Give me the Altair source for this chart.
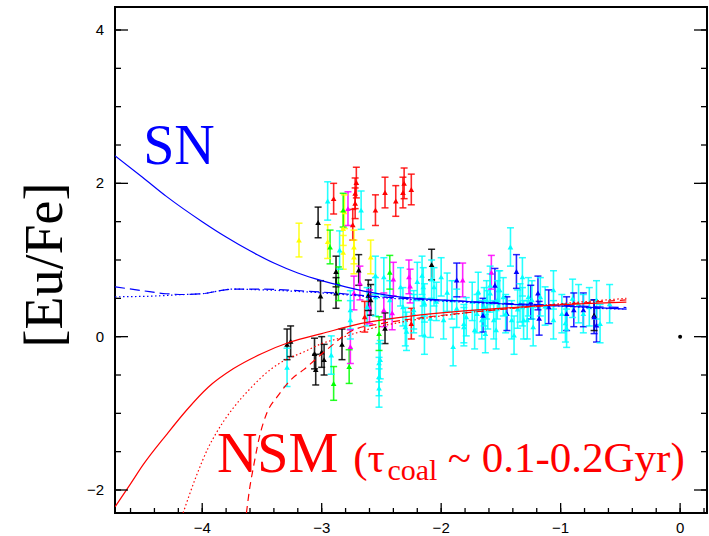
import altair as alt
import pandas as pd

# ---------------- model curves ----------------
sn_x = [-4.73, -4.5, -4.3, -4.0, -3.8, -3.6, -3.4, -3.2, -3.0, -2.8, -2.6, -2.4, -2.2, -1.8, -1.4, -1.0, -0.7, -0.45]
sn_y = [2.36, 2.08, 1.83, 1.50, 1.30, 1.12, 0.96, 0.83, 0.73, 0.65, 0.58, 0.53, 0.50, 0.46, 0.42, 0.40, 0.38, 0.36]

sn_dash_x = [-4.73, -4.5, -4.3, -4.15, -4.0, -3.85, -3.75, -3.5, -3.2, -2.9, -2.6, -2.2, -1.8, -1.4, -1.0, -0.7, -0.45]
sn_dash_y = [0.65, 0.60, 0.56, 0.55, 0.56, 0.60, 0.62, 0.62, 0.60, 0.57, 0.53, 0.49, 0.46, 0.43, 0.41, 0.39, 0.38]

sn_dot_x = [-4.73, -4.4, -4.15, -4.0, -3.85, -3.75, -3.5, -3.2, -2.9, -2.6, -2.2, -1.8, -1.4, -1.0, -0.7, -0.45]
sn_dot_y = [0.52, 0.53, 0.55, 0.56, 0.60, 0.62, 0.61, 0.59, 0.56, 0.52, 0.48, 0.45, 0.42, 0.40, 0.37, 0.36]

nsm_x = [-4.73, -4.6, -4.494, -4.3, -4.126, -3.95, -3.741, -3.5, -3.264, -3.0, -2.678, -2.3, -2.0, -1.6, -1.2, -0.8, -0.45]
nsm_y = [-2.22, -1.92, -1.67, -1.28, -0.95, -0.66, -0.42, -0.22, -0.07, 0.04, 0.17, 0.26, 0.31, 0.36, 0.40, 0.43, 0.45]

nsm_dot_x = [-4.16, -4.05, -3.95, -3.88, -3.75, -3.6, -3.43, -3.3, -3.15, -3.0, -2.85, -2.6, -2.3, -2.0, -1.5, -1.0, -0.45]
nsm_dot_y = [-2.30, -1.82, -1.45, -1.25, -0.95, -0.68, -0.43, -0.30, -0.20, -0.09, -0.02, 0.10, 0.20, 0.27, 0.36, 0.43, 0.50]

nsm_dash_x = [-3.63, -3.60, -3.57, -3.52, -3.46, -3.37, -3.25, -3.15, -2.98, -2.73, -2.5, -2.2, -1.8, -1.4, -1.0, -0.45]
nsm_dash_y = [-2.30, -1.95, -1.69, -1.30, -1.00, -0.78, -0.55, -0.43, -0.20, 0.09, 0.17, 0.24, 0.31, 0.37, 0.42, 0.48]

# ---------------- observed stars ([Fe/H], [Eu/Fe]) ----------------
black_x = [-3.29, -3.26, -3.06, -3.05, -3.00, -2.98, -2.83, -3.01, -2.88, -2.88, -2.69, -3.03, -2.61, -2.59, -2.47, -2.08, -0.72]
black_y = [-0.10, -0.06, -0.22, -0.43, -0.20, -0.30, -0.10, 0.53, 0.57, 0.85, 0.87, 1.49, 0.54, 0.48, 0.11, 0.94, 0.28]

yellow_x = [-3.19, -2.95, -2.81, -2.82, -2.82, -2.73, -2.73, -2.59]
yellow_y = [1.26, 1.24, 1.63, 1.41, 1.10, 1.17, 1.04, 1.04]

green_x = [-2.93, -2.82, -2.43, -2.86, -2.90, -2.77, -2.52]
green_y = [1.17, 1.65, 0.84, 0.69, -0.61, -0.39, 0.04]

magenta_x = [-2.78, -2.27, -2.76, -2.60, -2.48, -2.68, -1.82, -1.58, -2.73, -2.26, -2.40, -2.41]
magenta_y = [1.67, 0.78, -0.13, 0.39, 0.35, 0.70, 0.74, 0.84, 0.57, 0.66, 0.75, 0.31]

red_x = [-2.90, -2.71, -2.72, -2.72, -2.74, -2.55, -2.47, -2.38, -2.32, -2.31, -2.25, -2.64, -2.25]
red_y = [1.80, 2.01, 1.87, 1.74, 1.46, 1.65, 1.88, 1.77, 1.88, 2.00, 1.92, 0.26, 0.17]

blue_x = [-1.37, -1.55, -1.19, -1.18, -1.10, -0.89, -0.70, -0.72, -0.81, -1.87, -1.45, -1.65, -1.25, -0.95]
blue_y = [0.85, 0.67, 0.57, 0.24, 0.39, 0.35, 0.15, 0.26, 0.35, 0.74, 0.30, 0.28, 0.45, 0.30]

cyan_x = [-3.29, -2.95, -2.67, -2.85, -2.55, -2.92, -2.76, -2.51, -2.52, -2.52, -2.29, -1.42, -1.90, -2.14, -2.08,
          -2.20, -2.16, -2.14, -2.04, -2.00, -1.98, -1.91, -1.87, -1.79, -1.74, -1.69, -1.66, -1.62, -1.61, -1.59,
          -1.56, -1.53, -1.51, -1.46, -1.41, -1.34, -1.31, -1.27, -2.23, -2.09, -2.06, -1.81, -1.72, -1.63, -1.54,
          -1.39, -2.55, -2.43, -2.32, -2.30, -2.23, -2.16, -2.15, -2.34, -2.48, -2.62, -2.76, -1.81, -1.64, -1.59,
          -1.52, -1.32, -1.32, -1.28, -1.24, -1.17, -1.06, -1.06, -0.99, -0.95, -0.85, -0.81, -0.76, -0.70, -0.67,
          -0.59, -1.23, -0.96, -2.52, -1.95, -1.70, -1.48, -1.36, -1.13, -0.90]
cyan_y = [-0.40, 1.77, 1.65, 1.13, 0.80, -0.24, 0.22, -0.30, -0.52, -0.67, 0.07, 1.17, -0.13, 0.02, 0.75,
          0.72, 0.80, 0.44, 0.46, 0.78, 0.22, 0.48, 0.37, 0.26, 0.46, 0.59, 0.22, 0.48, 0.35, 0.67,
          0.22, 0.48, 0.61, 0.30, 0.22, 0.44, 0.22, 0.52, 0.30, 0.24, 0.65, 0.13, 0.09, 0.04, 0.09,
          0.02, 0.52, 0.48, 0.39, 0.13, 0.35, 0.26, 0.65, 0.65, 0.78, 0.39, 0.35, 0.17, 0.39, 0.57,
          0.61, 0.78, 0.39, 0.22, 0.48, 0.52, 0.61, 0.22, 0.30, 0.11, 0.43, 0.30, 0.39, 0.48, 0.17,
          0.43, 0.13, 0.18, -0.34, 0.58, 0.30, 0.52, 0.36, 0.40, 0.50]

groups = [("black", black_x, black_y, 0.20),
          ("yellow", yellow_x, yellow_y, 0.22),
          ("green", green_x, green_y, 0.22),
          ("magenta", magenta_x, magenta_y, 0.22),
          ("red", red_x, red_y, 0.20),
          ("blue", blue_x, blue_y, 0.22),
          ("cyan", cyan_x, cyan_y, 0.25)]
group_names = [g[0] for g in groups]
group_colors = ["#000000", "#ffff00", "#00ff00", "#ff00ff", "#ff0000", "#0000ff", "#00ffff"]

rows = []
for name, xs_, ys_, err in groups:
    for a, b in zip(xs_, ys_):
        rows.append({"g": name, "x": a, "y": b, "lo": b - err, "hi": b + err})
stars = pd.DataFrame(rows)

sun_x = [0.0]
sun_y = [0.0]

# axis ticks and labels
x_major = [-4, -3, -2, -1, 0]
x_labels = ["\u22124", "\u22123", "\u22122", "\u22121", "0"]
x_minor = [round(-4.6 + 0.2 * i, 1) for i in range(25)]
y_major = [-2, 0, 2, 4]
y_labels = ["\u22122", "0", "2", "4"]
y_minor = [round(-2.0 + 0.5 * i, 1) for i in range(13)]

W, H = 592, 506
xs = alt.Scale(domain=[-4.73, 0.225], nice=False, zero=False)
ys = alt.Scale(domain=[-2.3, 4.3], nice=False, zero=False)
cscale = alt.Scale(domain=group_names, range=group_colors)


def curve(xv, yv, color, dash=None):
    df = pd.DataFrame({"x": xv, "y": yv, "o": list(range(len(xv)))})
    kw = dict(color=color, strokeWidth=1.2, clip=True, interpolate="monotone")
    if dash is not None:
        kw["strokeDash"] = dash
    return alt.Chart(df).mark_line(**kw).encode(
        x=alt.X("x:Q", scale=xs, axis=None),
        y=alt.Y("y:Q", scale=ys, axis=None),
        order="o:Q",
    )


bars = alt.Chart(stars).mark_rule(strokeWidth=1.6, opacity=0.85).encode(
    x=alt.X("x:Q", scale=xs, axis=None),
    y=alt.Y("lo:Q", scale=ys, axis=None),
    y2="hi:Q",
    color=alt.Color("g:N", scale=cscale, legend=None),
)
cap_lo = alt.Chart(stars).mark_tick(orient="horizontal", size=7, thickness=1.5, opacity=0.85).encode(
    x=alt.X("x:Q", scale=xs, axis=None),
    y=alt.Y("lo:Q", scale=ys, axis=None),
    color=alt.Color("g:N", scale=cscale, legend=None),
)
cap_hi = alt.Chart(stars).mark_tick(orient="horizontal", size=7, thickness=1.5, opacity=0.85).encode(
    x=alt.X("x:Q", scale=xs, axis=None),
    y=alt.Y("hi:Q", scale=ys, axis=None),
    color=alt.Color("g:N", scale=cscale, legend=None),
)
pts = alt.Chart(stars).mark_point(shape="triangle-up", filled=True, size=32, opacity=1).encode(
    x=alt.X("x:Q", scale=xs, axis=None),
    y=alt.Y("y:Q", scale=ys, axis=None),
    color=alt.Color("g:N", scale=cscale, legend=None),
)
sun = alt.Chart(pd.DataFrame({"x": sun_x, "y": sun_y})).mark_circle(size=16, color="black", opacity=1).encode(
    x=alt.X("x:Q", scale=xs, axis=None),
    y=alt.Y("y:Q", scale=ys, axis=None),
)


# inward ticks
def yticks(vals, length, right=False):
    df = pd.DataFrame({"v": vals})
    if right:
        xe = dict(x=alt.value(W), x2=alt.value(W - length))
    else:
        xe = dict(x=alt.value(0), x2=alt.value(length))
    return alt.Chart(df).mark_rule(color="black", strokeWidth=1.3).encode(
        y=alt.Y("v:Q", scale=ys, axis=None), **xe)


def xticks(vals, length):
    df = pd.DataFrame({"v": vals})
    return alt.Chart(df).mark_rule(color="black", strokeWidth=1.3).encode(
        x=alt.X("v:Q", scale=xs, axis=None), y=alt.value(H), y2=alt.value(H - length))


xlab = alt.Chart(pd.DataFrame({"v": x_major, "t": x_labels})).mark_text(
    font="Liberation Sans", fontSize=15, color="black", align="center", baseline="top"
).encode(x=alt.X("v:Q", scale=xs, axis=None), y=alt.value(H + 8), text="t:N")

ylab = alt.Chart(pd.DataFrame({"v": y_major, "t": y_labels})).mark_text(
    font="Liberation Sans", fontSize=15, color="black", align="right", baseline="middle"
).encode(y=alt.Y("v:Q", scale=ys, axis=None), x=alt.value(-11), text="t:N")

ytitle = alt.Chart(pd.DataFrame({"t": ["[Eu/Fe]"]})).mark_text(
    font="Liberation Serif", fontSize=54, color="black", align="center", baseline="middle", angle=270
).encode(x=alt.value(-69), y=alt.value(258), text="t:N")


def label(text, xv, yv, color, size):
    return alt.Chart(pd.DataFrame({"t": [text]})).mark_text(
        font="Liberation Serif", fontSize=size, color=color, align="left", baseline="alphabetic"
    ).encode(
        x=alt.X(datum=xv, scale=xs, axis=None),
        y=alt.Y(datum=yv, scale=ys, axis=None),
        text="t:N",
    )


chart = alt.layer(
    bars, cap_lo, cap_hi, pts,
    curve(sn_x, sn_y, "#0000ff"),
    curve(sn_dash_x, sn_dash_y, "#0000ff", [10, 5]),
    curve(sn_dot_x, sn_dot_y, "#0000ff", [1.5, 2.5]),
    curve(nsm_x, nsm_y, "#ff0000"),
    curve(nsm_dot_x, nsm_dot_y, "#ff0000", [1.5, 2.5]),
    curve(nsm_dash_x, nsm_dash_y, "#ff0000", [7, 5]),
    sun,
    yticks(y_minor, 6), yticks(y_major, 13),
    yticks(y_minor, 6, right=True), yticks(y_major, 13, right=True),
    xticks(x_minor, 5), xticks(x_major, 10),
    xlab, ylab, ytitle,
    label("SN", -4.494, 2.253, "#0000ff", 56),
    label("NSM", -3.877, -1.761, "#ff0000", 56),
    label("(τ", -2.736, -1.761, "#ff0000", 43),
    label("coal", -2.450, -1.869, "#ff0000", 30),
    label("~ 0.1-0.2Gyr)", -1.945, -1.761, "#ff0000", 43),
).properties(
    width=W, height=H,
    autosize=alt.AutoSizeParams(type="none"),
    padding={"left": 115, "top": 7, "right": 2, "bottom": 23},
    background="white",
).configure_view(stroke="black", strokeWidth=2)

chart.save("out.html", embed_options={"renderer": "svg", "actions": False})
